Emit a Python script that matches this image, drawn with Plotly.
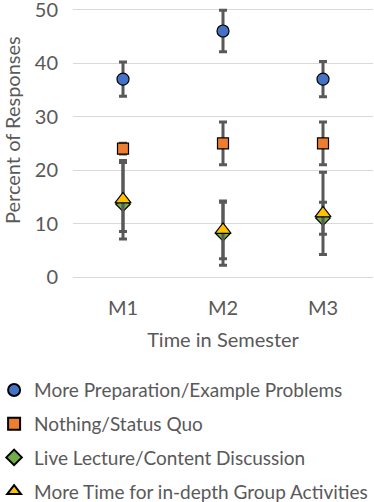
import plotly.graph_objects as go

# Time in semester (categories)
months = ["M1", "M2", "M3"]

# percent of responses per category, with error bar extents
prep_vals = [37, 46, 37]
prep_err = [3.2, 3.9, 3.3]

quo_vals = [24, 25, 25]
quo_err = [1.0, 4.0, 4.0]

live_vals = [13.6, 8.1, 11.0]
live_err_up = [7.8, 5.9, 3.0]
live_err_down = [5.1, 5.9, 3.0]

group_vals = [14.5, 8.8, 11.9]
group_err_up = [7.3, 5.4, 7.7]
group_err_down = [7.4, 5.4, 7.7]

FONT = "Lato"
TXT = "#595959"
BAR = "#595959"


def err(up, down=None):
    d = dict(type="data", array=up, color=BAR, thickness=3, width=4, visible=True)
    if down is not None:
        d["symmetric"] = False
        d["arrayminus"] = down
    return d


series = [
    ("More Preparation/Example Problems", prep_vals, err(prep_err), "circle", "#4472C4", 12),
    ("Nothing/Status Quo", quo_vals, err(quo_err), "square", "#ED7D31", 11),
    ("Live Lecture/Content Discussion", live_vals, err(live_err_up, live_err_down), "diamond", "#70AD47", 11),
    ("More Time for in-depth Group Activities", group_vals, err(group_err_up, group_err_down), "triangle-up", "#FFC000", 14),
]

fig = go.Figure()
for i, (name, vals, e, sym, col, sz) in enumerate(series):
    fig.add_trace(go.Scatter(
        x=months, y=vals, name=name, mode="markers",
        error_y=e,
        legendgroup=str(i),
        marker=dict(symbol=sym, color=col, size=sz, line=dict(color="black", width=1.2)),
    ))

fig.update_layout(
    width=374, height=502,
    margin=dict(l=73, r=1, t=8, b=225, autoexpand=False),
    paper_bgcolor="white", plot_bgcolor="white",
    font=dict(family=FONT, color=TXT, size=19),
    showlegend=True,
    legend=dict(
        x=-0.263, y=-0.35,
        xanchor="left", yanchor="top",
        traceorder="grouped", tracegroupgap=6,
        font=dict(size=19, color=TXT),
        itemsizing="constant",
        maxheight=1000,
    ),
)
# y title as an annotation so it sits where the original has it
fig.add_annotation(
    text="Percent of Responses", textangle=-90, showarrow=False,
    xref="paper", yref="paper", x=(12 - 73) / 300, y=(277 - 130) / 269,
    xanchor="center", yanchor="middle",
    font=dict(size=20, color=TXT),
)
fig.update_xaxes(
    type="category", range=[-0.5, 2.5], showgrid=False, showline=False, ticks="", automargin=False,
    tickfont=dict(size=20), ticklabelstandoff=17,
    title=dict(text="Time in Semester", font=dict(size=20), standoff=14),
)
fig.update_yaxes(
    range=[0, 50.3], tickvals=[0, 10, 20, 30, 40, 50], showgrid=True, gridcolor="#D9D9D9", gridwidth=1,
    zeroline=True, zerolinecolor="#D9D9D9", zerolinewidth=1, automargin=False,
    showline=False, ticks="", tickfont=dict(size=20), ticklabelstandoff=14,
    ticklabeloverflow="allow",
)

fig.write_html("out.html", config={"displayModeBar": False},
               post_script="document.body.style.margin='0';")
